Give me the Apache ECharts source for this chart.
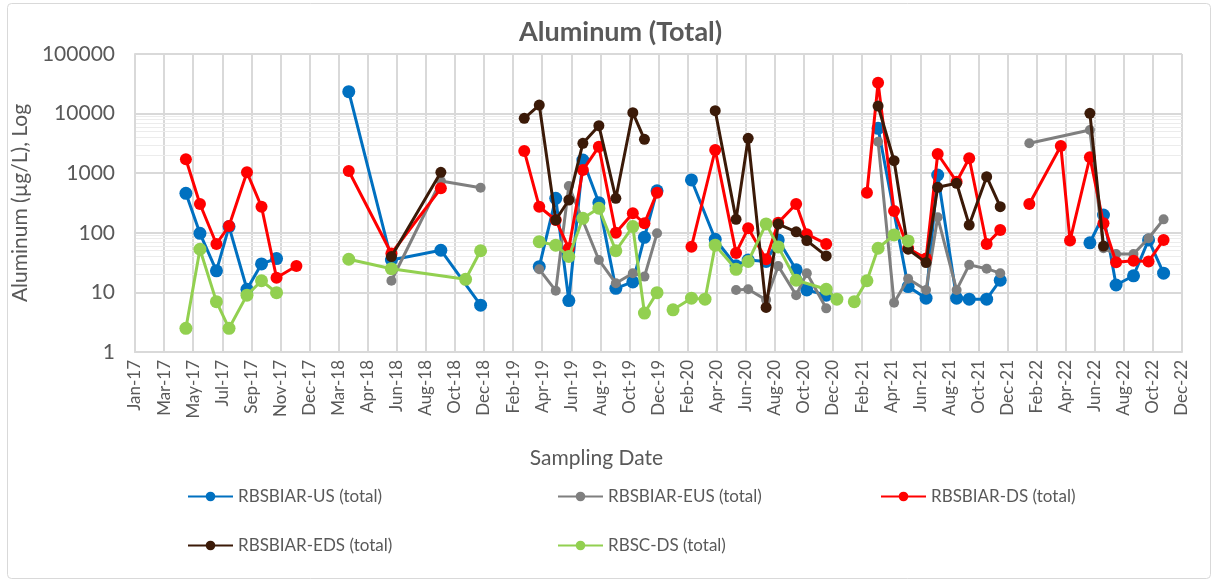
<!DOCTYPE html>
<html>
<head>
<meta charset="utf-8">
<script src="https://cdn.jsdelivr.net/npm/echarts@6/dist/echarts.min.js"></script>
<style>
html,body{margin:0;padding:0;background:#fff;}
#chart{width:1214px;height:579px;}
</style>
</head>
<body>
<div id="chart"></div>
<script>
// ---- Data ----
const xStart = '2017-01-05';   // first axis tick (Jan-17)
const xEnd = '2022-12-05';     // last axis tick (Dec-22)
const tickDays = 60;           // spacing of the date ticks, in days
const monthNames = ['Jan','Feb','Mar','Apr','May','Jun','Jul','Aug','Sep','Oct','Nov','Dec'];
const yTicks = [1, 10, 100, 1000, 10000, 100000];
// faint minor gridlines visible in the reference
const minorGridVals = [20,30,40,50,60,70,80,90,2000,3000,4000,5000,6000,7000,8000,9000];

const seriesNames = ['RBSBIAR-US (total)', 'RBSBIAR-EUS (total)', 'RBSBIAR-DS (total)', 'RBSBIAR-EDS (total)', 'RBSC-DS (total)'];

// null = break in the line
const usDates = ['2017-04-20','2017-05-19','2017-06-22','2017-07-18','2017-08-24','2017-09-23','2017-10-24', null,
  '2018-03-22','2018-06-18','2018-09-28','2018-12-19', null,
  '2019-04-19','2019-05-23','2019-06-19','2019-07-18','2019-08-20','2019-09-24','2019-10-29','2019-11-22','2019-12-18', null,
  '2020-02-27','2020-04-16','2020-05-29','2020-06-23','2020-07-30','2020-08-24','2020-09-30','2020-10-22','2020-12-01', null,
  '2021-03-18','2021-05-19','2021-06-25','2021-07-19','2021-08-27','2021-09-22','2021-10-28','2021-11-25', null,
  '2022-05-29','2022-06-26','2022-07-22','2022-08-27','2022-09-27','2022-10-28'];
const usVals = [460,98,23,127,11.3,30,37, null,
  23300,35,51,6.1, null,
  27,379,7.3,1665,320,11.7,15,84,508, null,
  770,78,28,35,33,76,24,11,9, null,
  5670,12.5,8,933,8,7.7,7.7,16, null,
  68,199,13.3,19,76,21];

const eusDates = ['2018-06-18','2018-09-28','2018-12-19', null,
  '2019-04-19','2019-05-23','2019-06-19','2019-08-20','2019-09-24','2019-10-29','2019-11-22','2019-12-18', null,
  '2020-05-29','2020-06-23','2020-07-30','2020-08-24','2020-09-30','2020-10-22','2020-12-01', null,
  '2021-03-18','2021-04-20','2021-05-19','2021-06-25','2021-07-19','2021-08-27','2021-09-22','2021-10-28','2021-11-25', null,
  '2022-01-24','2022-05-29','2022-06-26','2022-07-22','2022-08-27','2022-09-27','2022-10-28'];
const eusVals = [15.7,740,571, null,
  24.4,10.7,610,35,14.2,21,18.4,98, null,
  11,11.3,7.5,27.7,9,21,5.4, null,
  3380,6.7,17,11,182,11,29,25,21, null,
  3170,5300,55,44,44,81,168];

const dsDates = ['2017-04-20','2017-05-19','2017-06-22','2017-07-18','2017-08-24','2017-09-23','2017-10-24','2017-12-04', null,
  '2018-03-22','2018-06-18','2018-09-28', null,
  '2019-03-19','2019-04-19','2019-05-23','2019-06-19','2019-07-18','2019-08-20','2019-09-24','2019-10-29','2019-11-22','2019-12-18', null,
  '2020-02-27','2020-04-16','2020-05-29','2020-06-23','2020-07-30','2020-08-24','2020-09-30','2020-10-22','2020-12-01', null,
  '2021-02-23','2021-03-18','2021-04-20','2021-05-19','2021-06-25','2021-07-19','2021-08-27','2021-09-22','2021-10-28','2021-11-25', null,
  '2022-01-24','2022-03-30','2022-04-18','2022-05-29','2022-06-26','2022-07-22','2022-08-27','2022-09-27','2022-10-28'];
const dsVals = [1711,304,65,130,1035,274,17.6,27.7, null,
  1090,45,558, null,
  2360,274,164,55,1130,2785,100,212,144,471, null,
  58.5,2450,46,119,36,148,304,95,65, null,
  471,33000,232,55,37,2100,720,1780,65,111, null,
  304,2860,74,1850,144,32,34,33,76];

const edsDates = ['2018-06-18','2018-09-28', null,
  '2019-03-19','2019-04-19','2019-05-23','2019-06-19','2019-07-18','2019-08-20','2019-09-24','2019-10-29','2019-11-22', null,
  '2020-04-16','2020-05-29','2020-06-23','2020-07-30','2020-08-24','2020-09-30','2020-10-22','2020-12-01', null,
  '2021-03-18','2021-04-20','2021-05-19','2021-06-25','2021-07-19','2021-08-27','2021-09-22','2021-10-28','2021-11-25', null,
  '2022-05-29','2022-06-26'];
const edsVals = [40,1035, null,
  8340,13900,164,355,3170,6270,379,10350,3700, null,
  11200,168,3850,5.6,140,104,74,41, null,
  13400,1620,53,31.6,580,677,135,873,274, null,
  10100,60];

const scDates = ['2017-04-20','2017-05-19','2017-06-22','2017-07-18','2017-08-24','2017-09-23','2017-10-24', null,
  '2018-03-22','2018-06-18','2018-11-18','2018-12-19', null,
  '2019-04-19','2019-05-23','2019-06-19','2019-07-18','2019-08-20','2019-09-24','2019-10-29','2019-11-22','2019-12-18', null,
  '2020-01-20','2020-02-27','2020-03-26','2020-04-16','2020-05-29','2020-06-23','2020-07-30','2020-08-24','2020-09-30','2020-12-01','2020-12-23', null,
  '2021-01-28','2021-02-23','2021-03-18','2021-04-20','2021-05-19'];
const scVals = [2.5,53,7.0,2.5,9.0,15.7,9.9, null,
  36,25,16.6,50, null,
  71,62,40,175,258,50,127,4.5,9.9, null,
  5.1,8,7.7,62,24.4,33,141,58,16,11.3,7.7, null,
  7,15.7,55,92,73];

// ---- Helpers ----
const DAY = 86400000;
function toUTC(s){ const p = s.split('-').map(Number); return Date.UTC(p[0], p[1]-1, p[2]); }
const t0 = toUTC(xStart);
function dayOffset(s){ return Math.round((toUTC(s) - t0) / DAY); }
function buildData(dates, vals){
  return dates.map((d, i) => (d === null || vals[i] === null) ? ['-', '-'] : [dayOffset(d), vals[i]]);
}
function fmtDay(v){
  const d = new Date(t0 + v * DAY);
  return monthNames[d.getUTCMonth()] + '-' + String(d.getUTCFullYear()).slice(2);
}

const FONT = 'Lato, "Liberation Sans", sans-serif';
const TXT = '#595959';
const GRID = '#d9d9d9';

const styles = [
  {color:'#0070C0', size:13},
  {color:'#7F7F7F', size:10},
  {color:'#FF0000', size:12},
  {color:'#3B1A08', size:11},
  {color:'#92D050', size:13}
];
const datasets = [
  buildData(usDates, usVals),
  buildData(eusDates, eusVals),
  buildData(dsDates, dsVals),
  buildData(edsDates, edsVals),
  buildData(scDates, scVals)
];

const legendPos = [
  {left:187, top:488}, {left:557, top:488}, {left:880, top:488},
  {left:187, top:537}, {left:557, top:537}
];

const series = [];
// faint minor gridlines, drawn through the log scale, beneath everything
series.push({
  name:'minorGrid', type:'line', data:[], silent:true, z:0,
  markLine:{
    silent:true, symbol:'none', label:{show:false}, z:0, zlevel:0,
    lineStyle:{color:'#ececec', width:1, type:'solid'},
    data: minorGridVals.map(v => ({yAxis:v}))
  }
});
datasets.forEach((data, i) => series.push({
  name:seriesNames[i], type:'line', data:data,
  connectNulls:false,
  symbol:'circle', symbolSize:styles[i].size,
  lineStyle:{color:styles[i].color, width:3},
  itemStyle:{color:styles[i].color},
  z:3+i
}));

const chart = echarts.init(document.getElementById('chart'), null, {renderer:'canvas'});
chart.setOption({
  animation:false,
  backgroundColor:'#fff',
  textStyle:{fontFamily:FONT},
  title:{
    text:'Aluminum (Total)', left:514, top:14,
    textStyle:{fontFamily:FONT, fontSize:27, fontWeight:'bold', color:TXT}
  },
  graphic:[{
    type:'rect', left:5, top:1, silent:true,
    shape:{width:1203, height:575, r:4},
    style:{fill:'none', stroke:'#d9d9d9', lineWidth:1}
  }],
  legend: legendPos.map((p, i) => ({
    data:[seriesNames[i]], left:p.left, top:p.top, padding:0,
    itemWidth:45, itemHeight:12, itemGap:5,
    textStyle:{fontFamily:FONT, fontSize:17, color:TXT}
  })),
  grid:{left:135, right:32, top:54, bottom:227, containLabel:false},
  xAxis:{
    type:'value', min:0, max:dayOffset(xEnd), interval:tickDays,
    name:'Sampling Date', nameLocation:'middle', nameGap:96,
    nameTextStyle:{fontFamily:FONT, fontSize:21, color:TXT, padding:[0,124,0,0]},
    axisLine:{show:true, lineStyle:{color:GRID, width:2}},
    axisTick:{show:false},
    splitLine:{show:true, lineStyle:{color:GRID, width:2}},
    axisLabel:{
      rotate:90, margin:8, color:TXT, fontFamily:FONT, fontSize:17,
      showMinLabel:true, showMaxLabel:true,
      formatter:fmtDay
    }
  },
  yAxis:{
    type:'log', logBase:10, min:yTicks[0], max:yTicks[yTicks.length-1],
    name:'Aluminum (µg/L), Log', nameLocation:'middle', nameGap:88,
    nameTextStyle:{fontFamily:FONT, fontSize:21, color:TXT},
    axisLine:{show:true, lineStyle:{color:GRID, width:2}},
    axisTick:{show:false},
    splitLine:{show:true, lineStyle:{color:GRID, width:2}},
    axisLabel:{color:TXT, fontFamily:FONT, fontSize:21, margin:20,
      formatter:v => String(Math.round(v))}
  },
  series: series
});
</script>
</body>
</html>
